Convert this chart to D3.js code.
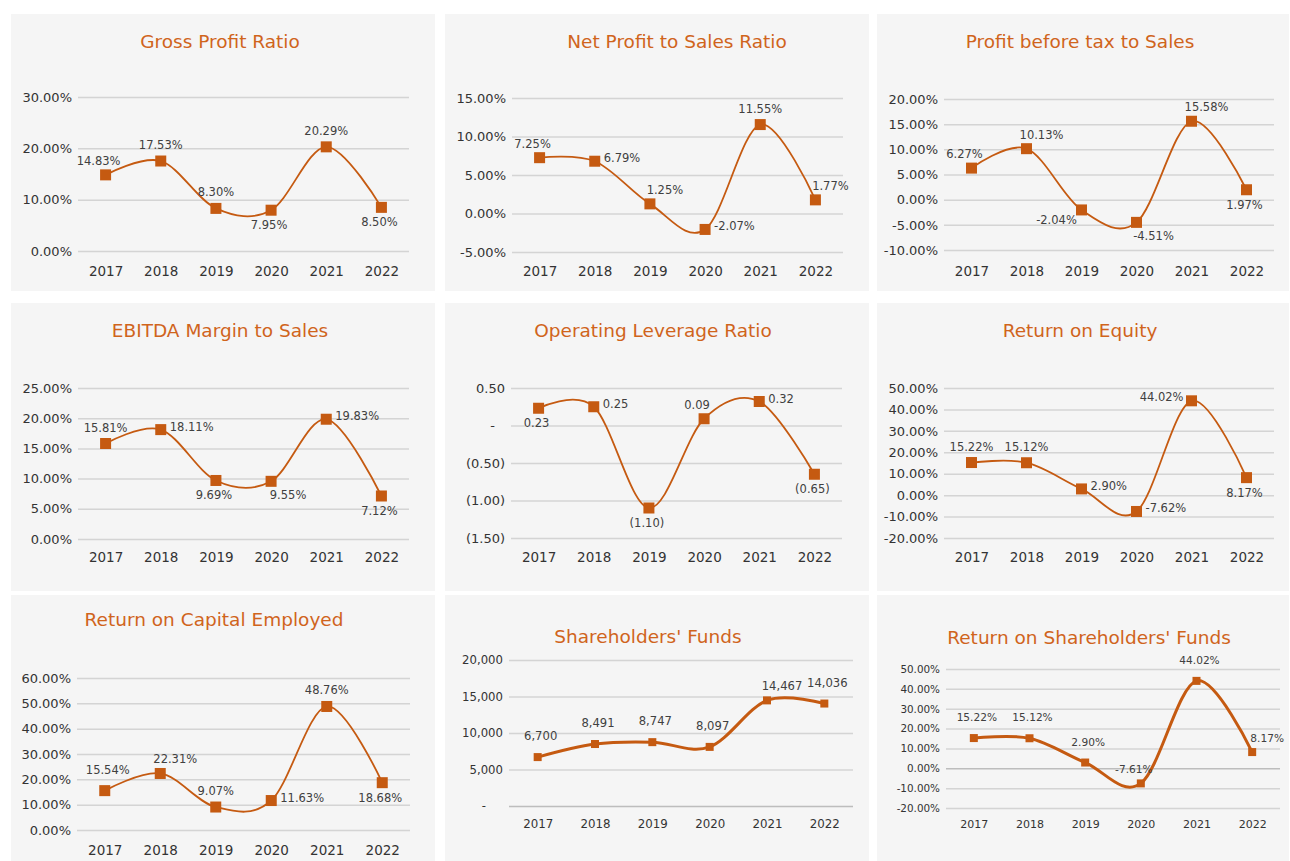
<!DOCTYPE html>
<html>
<head>
<meta charset="utf-8">
<script src="https://cdn.jsdelivr.net/npm/d3@7"></script>
<style>
  body { margin: 0; background: #ffffff; }
  svg text { font-family: "DejaVu Sans", "Liberation Sans", sans-serif; }
</style>
</head>
<body>
<svg id="chart" width="1290" height="861"></svg>
<script>
// ---- data ----
var years = ["2017", "2018", "2019", "2020", "2021", "2022"];

var grossProfit      = [14.83, 17.53, 8.30, 7.95, 20.29, 8.50];
var netProfitSales   = [7.25, 6.79, 1.25, -2.07, 11.55, 1.77];
var pbtSales         = [6.27, 10.13, -2.04, -4.51, 15.58, 1.97];
var ebitdaMargin     = [15.81, 18.11, 9.69, 9.55, 19.83, 7.12];
var operatingLev     = [0.23, 0.25, -1.10, 0.09, 0.32, -0.65];
var returnOnEquity   = [15.22, 15.12, 2.90, -7.62, 44.02, 8.17];
var returnOnCapital  = [15.54, 22.31, 9.07, 11.63, 48.76, 18.68];
var shareholderFunds = [6700, 8491, 8747, 8097, 14467, 14036];
var returnOnSHFunds  = [15.22, 15.12, 2.90, -7.61, 44.02, 8.17];

var titles = ["Gross Profit Ratio", "Net Profit to Sales Ratio", "Profit before tax to Sales",
  "EBITDA Margin to Sales", "Operating Leverage Ratio", "Return on Equity",
  "Return on Capital Employed", "Shareholders' Funds", "Return on Shareholders' Funds"];

var pctTicks1 = [0, 10, 20, 30];
var pctTicks2 = [-5, 0, 5, 10, 15];
var pctTicks3 = [-10, -5, 0, 5, 10, 15, 20];
var pctTicks4 = [0, 5, 10, 15, 20, 25];
var levTicks  = [-1.5, -1, -0.5, 0, 0.5];
var roeTicks  = [-20, -10, 0, 10, 20, 30, 40, 50];
var roceTicks = [0, 10, 20, 30, 40, 50, 60];
var fundTicks = [0, 5000, 10000, 15000, 20000];

// ---- formats ----
var pct = d => d.toFixed(2) + "%";
var acct = d => d === 0 ? "-" : (d < 0 ? "(" + Math.abs(d).toFixed(2) + ")" : d.toFixed(2));
var thou = d => d === 0 ? "-" : d3.format(",")(d);

// label placement around the marker
var place = {
  a:  {dx: 0,   dy: -16, anchor: "middle"},
  a2: {dx: 3,   dy: -21, anchor: "middle"},
  al: {dx: -7,  dy: -14, anchor: "middle"},
  ar: {dx: 15,  dy: -14, anchor: "middle"},
  b:  {dx: -2,  dy: 15,  anchor: "middle"},
  bl: {dx: -25, dy: 10,  anchor: "middle"},
  br: {dx: 17,  dy: 14,  anchor: "middle"},
  r:  {dx: 9,   dy: -3,  anchor: "start"},
  l:  {dx: -8,  dy: -4,  anchor: "end"}
};

var ORANGE = "#c55a11";

var charts = [
  {title: titles[0], values: grossProfit, ticks: pctTicks1, fmt: pct,
   panel: [11, 14, 424, 277], plot: [78, 97, 409, 251], titleX: 220, titleY: 41, yearY: 271,
   pos: ["al", "a", "a", "b", "a", "b"]},
  {title: titles[1], values: netProfitSales, ticks: pctTicks2, fmt: pct,
   panel: [445, 14, 424, 277], plot: [512, 98, 843, 252], titleX: 677, titleY: 41, yearY: 271,
   pos: ["al", "r", "ar", "r", "a", "ar"]},
  {title: titles[2], values: pbtSales, ticks: pctTicks3, fmt: pct,
   panel: [877, 14, 412, 277], plot: [944, 99, 1274, 250], titleX: 1080, titleY: 41, yearY: 271,
   pos: ["al", "ar", "bl", "br", "ar", "b"]},
  {title: titles[3], values: ebitdaMargin, ticks: pctTicks4, fmt: pct,
   panel: [11, 303, 424, 288], plot: [78, 388, 409, 539], titleX: 220, titleY: 330, yearY: 557,
   pos: ["a", "r", "b", "br", "r", "b"]},
  {title: titles[4], values: operatingLev, ticks: levTicks, fmt: acct,
   panel: [445, 303, 424, 288], plot: [511, 388, 842, 538], titleX: 653, titleY: 330, yearY: 557,
   pos: ["b", "r", "b", "al", "r", "b"], zeroDx: -10},
  {title: titles[5], values: returnOnEquity, ticks: roeTicks, fmt: pct,
   panel: [877, 303, 412, 288], plot: [944, 388, 1274, 538], titleX: 1080, titleY: 330, yearY: 557,
   pos: ["a", "a", "r", "r", "l", "b"]},
  {title: titles[6], values: returnOnCapital, ticks: roceTicks, fmt: pct,
   panel: [11, 595, 424, 266], plot: [77, 678, 410, 830], titleX: 214, titleY: 619, yearY: 850,
   pos: ["a2", "ar", "a", "r", "a", "b"]},
  {title: titles[7], values: shareholderFunds, ticks: fundTicks, fmt: thou,
   panel: [445, 595, 424, 266], plot: [509, 660, 853, 806], titleX: 648, titleY: 636, yearY: 824,
   pos: ["a2", "a2", "a2", "a2", "ar", "a2"], small: true, zeroDx: -17,
   tickSize: 11.7, yearSize: 11.8, labelSize: 11.6},
  {title: titles[8], values: returnOnSHFunds, ticks: roeTicks, fmt: pct,
   panel: [877, 595, 412, 266], plot: [946, 669, 1280, 808], titleX: 1089, titleY: 637, yearY: 824,
   pos: ["a2", "a2", "a2", "al", "a2", "ar"], small: true,
   tickSize: 10.4, yearSize: 11, labelSize: 10.6}
];

var svg = d3.select("#chart");

charts.forEach(function(c) {
  var g = svg.append("g");
  var p = c.plot;

  g.append("rect")
    .attr("x", c.panel[0]).attr("y", c.panel[1])
    .attr("width", c.panel[2]).attr("height", c.panel[3])
    .attr("fill", "#f5f5f5");

  g.append("text")
    .attr("x", c.titleX)
    .attr("y", c.titleY)
    .attr("text-anchor", "middle")
    .attr("dominant-baseline", "central")
    .attr("fill", "#d0641c")
    .attr("font-size", 18.5)
    .text(c.title);

  var x = d3.scalePoint().domain(years).range([p[0], p[2]]).padding(0.5);
  var y = d3.scaleLinear()
    .domain([c.ticks[0], c.ticks[c.ticks.length - 1]])
    .range([p[3], p[1]]);

  // gridlines + y labels
  var yAxis = g.append("g")
    .attr("transform", "translate(" + p[0] + ",0)")
    .call(d3.axisLeft(y).tickValues(c.ticks).tickFormat(c.fmt)
      .tickSize(-(p[2] - p[0])).tickPadding(6));
  yAxis.select(".domain").remove();
  yAxis.selectAll(".tick line")
    .attr("stroke", d => (c.small && d === 0) ? "#bdbdbd" : "#d4d4d4")
    .attr("stroke-width", 1.5);
  yAxis.selectAll(".tick text")
    .attr("fill", "#333")
    .attr("font-size", c.tickSize || 13);
  if (c.zeroDx) {
    yAxis.selectAll(".tick text").filter(d => d === 0).attr("dx", c.zeroDx);
  }

  // year labels
  var xAxis = g.append("g")
    .attr("transform", "translate(0," + c.yearY + ")")
    .call(d3.axisBottom(x).tickSize(0).tickPadding(0));
  xAxis.select(".domain").remove();
  xAxis.selectAll(".tick text")
    .attr("dy", "0.35em")
    .attr("fill", "#333")
    .attr("font-size", c.yearSize || 13.5);

  var line = d3.line()
    .x((d, i) => x(years[i]))
    .y(d => y(d))
    .curve(d3.curveCatmullRom.alpha(0));

  g.append("path")
    .datum(c.values)
    .attr("d", line)
    .attr("fill", "none")
    .attr("stroke", ORANGE)
    .attr("stroke-width", c.small ? 3 : 1.8);

  var ms = c.small ? 8 : 11;
  g.selectAll("rect.mk")
    .data(c.values)
    .join("rect")
    .attr("class", "mk")
    .attr("x", (d, i) => x(years[i]) - ms / 2)
    .attr("y", d => y(d) - ms / 2)
    .attr("width", ms).attr("height", ms)
    .attr("fill", ORANGE);

  g.selectAll("text.lbl")
    .data(c.values)
    .join("text")
    .attr("class", "lbl")
    .attr("x", (d, i) => x(years[i]) + place[c.pos[i]].dx)
    .attr("y", (d, i) => y(d) + place[c.pos[i]].dy)
    .attr("text-anchor", (d, i) => place[c.pos[i]].anchor)
    .attr("dominant-baseline", "central")
    .attr("fill", "#404040")
    .attr("font-size", c.labelSize || 11.5)
    .text(d => c.fmt(d));
});
</script>
</body>
</html>
